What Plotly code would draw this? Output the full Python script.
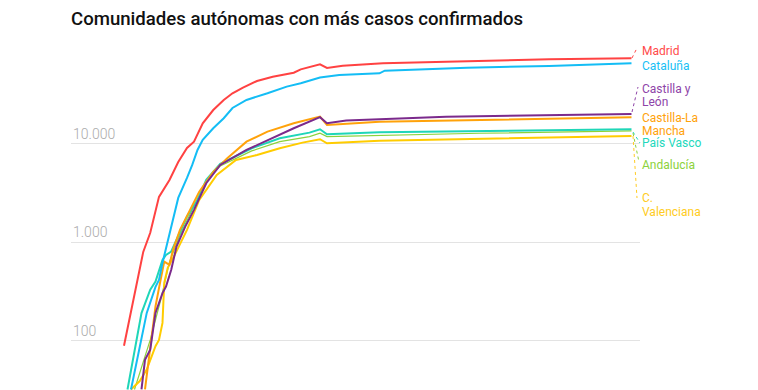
import math
import plotly.graph_objects as go

# Days since start of series (x axis hidden), cumulative confirmed cases
madrid_days = [0, 5.5, 7.5, 10, 13, 15.5, 18, 20, 22.5, 25.5, 28.5, 31, 34, 38, 42.5, 48.5, 50.5, 56, 58, 62.5, 74, 98, 121.5, 145]
madrid_cases = [89, 800, 1250, 2900, 4310, 6560, 9100, 10550, 16200, 22100, 28000, 32700, 37300, 43600, 48200, 52900, 57300, 64400, 59200, 62400, 65900, 69600, 72400, 74200]

cataluna_days = [2, 5.5, 6.5, 9, 10, 11, 12, 13.5, 15.5, 18, 19.5, 21, 22.5, 25.5, 28.5, 31, 35, 41, 46.5, 50.5, 56, 61.5, 73, 74.5, 85.5, 98, 121.5, 145]
cataluna_cases = [32, 129, 192, 353, 416, 619, 880, 1440, 2830, 4520, 6120, 8690, 10990, 14430, 18240, 23190, 28000, 32700, 38200, 41300, 47300, 50100, 52200, 55500, 57300, 59600, 61900, 65900]

cyl_days = [5, 6, 7.5, 9, 11, 12, 13.5, 15, 17.5, 20, 23.5, 27.5, 35, 41.5, 48.5, 56, 58, 63.5, 92, 145]
cyl_cases = [32, 64, 81, 192, 305, 356, 526, 906, 1445, 2140, 3990, 6120, 8690, 11160, 14430, 18700, 16220, 17260, 18940, 20180]

clm_days = [6, 7.5, 9, 10, 11, 11.5, 13, 14, 16, 18, 21.5, 25.5, 29.5, 35, 41, 48.5, 56, 58, 73, 145]
clm_cases = [32, 91, 223, 343, 526, 638, 591, 840, 1340, 1860, 3260, 5200, 7160, 10550, 13340, 16220, 18940, 15600, 16830, 18670]

pv_days = [1, 5, 7.5, 9, 11, 12, 13.5, 15, 18, 21, 23.5, 27.5, 36.5, 44.5, 53, 56, 58, 73, 145]
pv_cases = [32, 191, 330, 400, 664, 746, 807, 1060, 1830, 2700, 4310, 6270, 9040, 11430, 13030, 14100, 12540, 13140, 14100]

and_days = [3, 7.5, 10.5, 13, 16, 20, 23.5, 27.5, 36.5, 44.5, 53, 56, 58, 101.5, 145]
and_cases = [32, 102, 261, 634, 1190, 2290, 4210, 5980, 8490, 10550, 11860, 12840, 11860, 12840, 13550]

val_days = [2, 4.5, 6.5, 9, 10, 11, 11.5, 12.5, 14.5, 18, 21.5, 26.5, 32, 38, 44.5, 51, 56, 58, 73, 107.5, 145]
val_cases = [32, 39, 51, 88, 102, 152, 388, 551, 746, 1340, 2700, 4840, 6880, 7730, 9040, 10310, 11160, 10160, 10800, 11430, 12050]

tick_vals = [100, 1000, 10000]
tick_labels = ["100", "1.000", "10.000"]

series = [
    ("Andalucía", and_days, and_cases, "#8cd23c", 1.2),
    ("C. Valenciana", val_days, val_cases, "#ffcc00", 2),
    ("País Vasco", pv_days, pv_cases, "#1fd6b8", 2),
    ("Castilla-La Mancha", clm_days, clm_cases, "#ffa20a", 2),
    ("Castilla y León", cyl_days, cyl_cases, "#7b2a8c", 2),
    ("Cataluña", cataluna_days, cataluna_cases, "#14bdf5", 2),
    ("Madrid", madrid_days, madrid_cases, "#ff4242", 2),
]

# The page body has an 8px margin: lay out in page pixels, shift by OFF
OFF = 8
PAGE_W, PAGE_H = 758, 390
W, H = PAGE_W - OFF, PAGE_H - OFF
PL, PR, PT, PB = 71, 640, 40, 390          # plot area in page pixels
L, T = PL - OFF, PT - OFF
R = W - (PR - OFF)
B = H - (PB - OFF)
PW, PH = PR - PL, PB - PT

def px(x):
    return (x - PL) / PW

def py(y):
    return (PB - y) / PH

fig = go.Figure()
for name, d, c, col, w in series:
    fig.add_trace(go.Scatter(x=d, y=c, mode="lines", name=name,
                             line=dict(color=col, width=w), hoverinfo="skip"))

FONT = "Roboto"
annotations = []
for v, t in zip(tick_vals, tick_labels):
    annotations.append(dict(x=0, xref="paper", y=math.log10(v), yref="y",
                            text=t, showarrow=False, xanchor="left", yanchor="bottom",
                            yshift=0, font=dict(family=FONT, size=14, color="#ababab", weight=300)))

labels = [
    ("Madrid", 51, "#ff4a4a"),
    ("Cataluña", 66, "#18bff5"),
    ("Castilla y", 89, "#8e44a8"),
    ("León", 101.5, "#8e44a8"),
    ("Castilla-La", 118, "#ffa20a"),
    ("Mancha", 130.5, "#ffa20a"),
    ("País Vasco", 142.5, "#22d8bc"),
    ("Andalucía", 165, "#8cd23c"),
    ("C.", 198, "#ffcc22"),
    ("Valenciana", 212, "#ffcc22"),
]
for t, y, col in labels:
    annotations.append(dict(x=px(640), xref="paper", y=py(y), yref="paper", text=t,
                            showarrow=False, xanchor="left", yanchor="middle",
                            font=dict(family=FONT, size=12, color=col)))

leaders = [
    (632, 58, 637, 48, "#ff4a4a"),
    (632, 112, 638, 87, "#8e44a8"),
    (633, 132, 640, 143, "#22d8bc"),
    (633, 133, 639, 162, "#8cd23c"),
    (633, 136, 637, 198, "#ffcc22"),
]
shapes = []
for x0, y0, x1, y1, col in leaders:
    shapes.append(dict(type="line", xref="paper", yref="paper", x0=px(x0), y0=py(y0),
                       x1=px(x1), y1=py(y1), line=dict(color=col, width=1, dash="dot")))

fig.update_layout(
    width=W, height=H,
    margin=dict(l=L, r=R, t=T, b=B, pad=0),
    paper_bgcolor="white", plot_bgcolor="white",
    showlegend=False,
    title=dict(text="Comunidades autónomas con más casos confirmados",
               x=(71 - OFF) / W, xanchor="left", xref="container",
               y=1 - (18 - OFF) / H, yanchor="middle", yref="container",
               font=dict(family=FONT, size=18.6, color="#111111", weight=500)),
    xaxis=dict(range=[-15.14, 147.43], visible=False, fixedrange=True),
    yaxis=dict(type="log", range=[1.5, 5.056], tickvals=tick_vals, showticklabels=False,
               showgrid=True, gridcolor="#e3e3e3", gridwidth=1, zeroline=False,
               showline=False, ticks="", fixedrange=True),
    annotations=annotations,
    shapes=shapes,
)

fig.write_html("out.html", config={"displayModeBar": False})
